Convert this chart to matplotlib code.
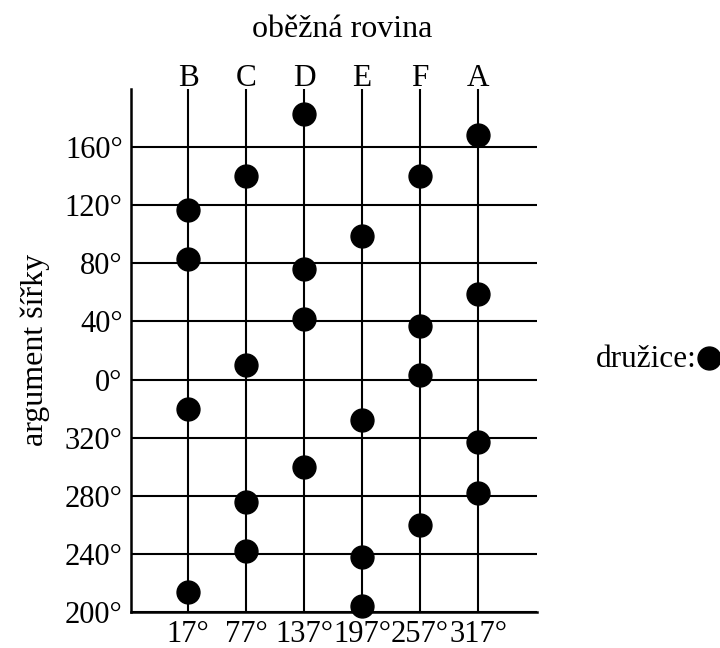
import matplotlib
matplotlib.use("Agg")
import matplotlib.pyplot as plt
from matplotlib.lines import Line2D

plt.rcParams['font.family'] = ['Liberation Serif', 'DejaVu Serif']
plt.rcParams['font.size'] = 22

# orbital planes and their ascending nodes (deg)
planes = ['B', 'C', 'D', 'E', 'F', 'A']
nodes = [17, 77, 137, 197, 257, 317]

# argument of latitude of the satellites in each plane (deg)
sat_B = [117, 83, 340, 214]
sat_C = [140, 10, 276, 242]
sat_D = [183, 76, 42, 300]
sat_E = [99, 332, 238, 204]
sat_F = [140, 37, 3, 260]
sat_A = [168, 59, 317, 282]
sats = [sat_B, sat_C, sat_D, sat_E, sat_F, sat_A]

lat_ticks = [200, 240, 280, 320, 0, 40, 80, 120, 160]


def unwrap(u):
    # axis starts at 200 deg and runs past 360 back to 160
    return u if u >= 200 else u + 360


fig = plt.figure(figsize=(7.2, 6.48), dpi=100)
ax = fig.add_axes([131 / 720, 1 - 612 / 648, (537 - 131) / 720, (612 - 89) / 648])

ax.set_xlim(-42, 378)
ax.set_ylim(200, 560)

ax.set_xticks(nodes)
ax.set_xticklabels([f"{n}°" for n in nodes])
ax.set_yticks([unwrap(t) for t in lat_ticks])
ax.set_yticklabels([f"{t}°" for t in lat_ticks])
ax.tick_params(axis='both', length=0)
ax.tick_params(axis='x', pad=5.5)
ax.tick_params(axis='y', pad=6)

ax.grid(True, color='black', linewidth=1.5)
ax.set_axisbelow(True)
for side in ['top', 'right']:
    ax.spines[side].set_visible(False)
for side in ['left', 'bottom']:
    ax.spines[side].set_linewidth(1.8)

for node, plane_sats in zip(nodes, sats):
    ys = [unwrap(u) for u in plane_sats]
    ax.plot([node] * len(ys), ys, 'o', color='black', markersize=16.5,
            clip_on=False, zorder=5)

# plane letters above each vertical line
for name, node in zip(planes, nodes):
    ax.annotate(name, xy=(node, 1.0), xycoords=('data', 'axes fraction'),
                xytext=(0, 3), textcoords='offset pixels',
                ha='center', va='baseline', fontsize=22.5)

fig.text(342 / 720, 1 - 37 / 648, "oběžná rovina", ha='center', va='baseline',
         fontsize=23)
fig.text(35 / 720, 1 - 350 / 648, "argument šířky", rotation=90,
         ha='center', va='center', fontsize=23)

# legend: label plus a single satellite dot
fig.text(697 / 720, 1 - 367 / 648, "družice:", ha='right', va='baseline',
         fontsize=22.5)
fig.add_artist(Line2D([709 / 720], [1 - 358 / 648], marker='o', color='black',
                      markersize=16.5, linestyle='none',
                      transform=fig.transFigure))

fig.savefig('out.png', dpi=100)
